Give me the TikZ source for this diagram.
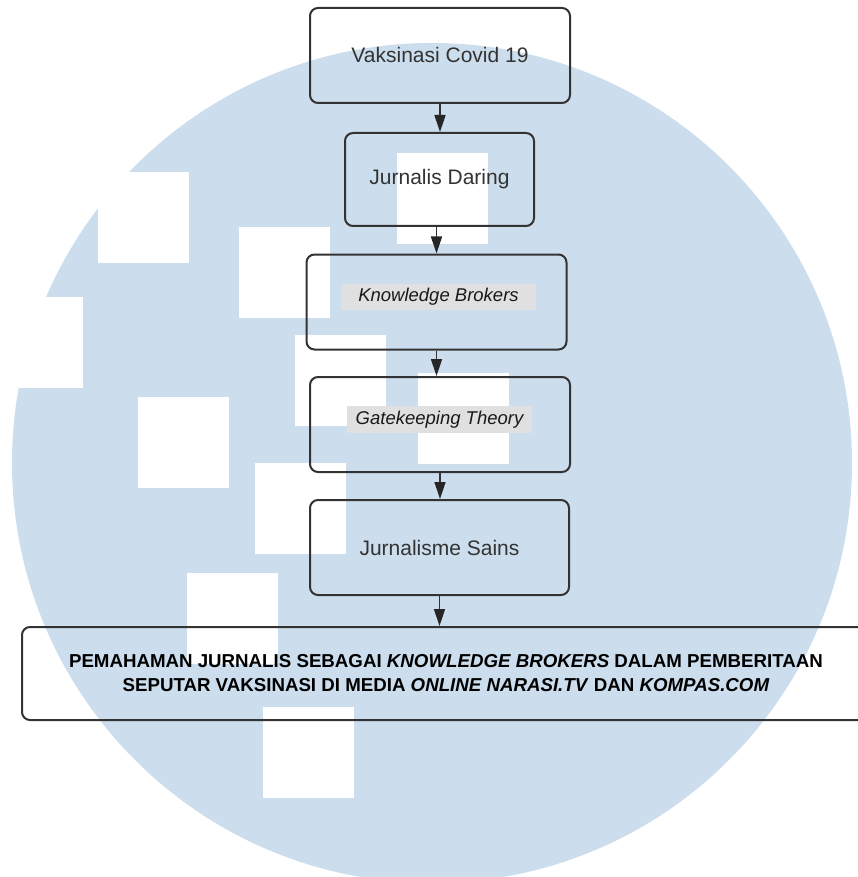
\documentclass[tikz,border=0pt]{standalone}
\usepackage{fontspec}
\setmainfont{Liberation Sans}
\usetikzlibrary{arrows.meta}
\definecolor{wm}{RGB}{204,221,237}
\definecolor{ink}{HTML}{333333}
\definecolor{tagbg}{HTML}{E0E0E0}
\begin{document}
\begin{tikzpicture}[x=1pt,y=-1pt,
  stage/.style={draw=ink, line width=2pt, rounded corners=8pt, inner sep=0pt,
    text=ink, font=\fontsize{21}{25}\selectfont},
  tag/.style={fill=tagbg, inner sep=0pt, minimum height=26pt, text=black!90,
    font=\fontsize{18.5}{22}\selectfont\itshape},
  link/.style={draw=ink, line width=1.4pt,
    -{Triangle[length=17pt,width=11pt,color=black!85]}},
  tile/.style={fill=white}]
\useasboundingbox (0,0) rectangle (858,877);
\clip (0,0) rectangle (858,877);

% watermark disc with white tiles
\fill[wm] (432,463) circle[radius=420];
\foreach \x/\y in {98/172, 239/227, -8/297, 295/335, 138/397, 255/463,
                   397/153, 418/373, 187/573, 263/707}
  \fill[tile] (\x,\y) rectangle ++(91,91);

% flow stages
\node[stage, minimum width=260pt, minimum height=95pt] (b1) at (440,55.5) {\raisebox{1.5pt}{Vaksinasi Covid 19}};
\node[stage, minimum width=189pt, minimum height=93pt] (b2) at (439.5,179.5) {Jurnalis Daring};
\node[stage, minimum width=260pt, minimum height=95pt] (b3) at (436.5,302) {};
\node[tag, minimum width=195pt] (b3t) at (438.5,297) {Knowledge Brokers};
\node[stage, minimum width=260pt, minimum height=95pt] (b4) at (440,424.5) {};
\node[tag, minimum width=185pt, minimum height=27pt] (b4t) at (439.5,419.5) {Gatekeeping Theory};
\node[stage, minimum width=259pt, minimum height=95pt] (b5) at (439.5,547.5) {Jurnalisme Sains};
\node[stage, minimum width=848pt, minimum height=93pt, align=center, text=black,
  font=\fontsize{18.7}{24}\selectfont\bfseries] (b6) at (446,673.5)
  {PEMAHAMAN JURNALIS SEBAGAI \textit{KNOWLEDGE BROKERS} DALAM PEMBERITAAN\\
   SEPUTAR VAKSINASI DI MEDIA \textit{ONLINE NARASI.TV} DAN \textit{KOMPAS.COM}};

% connectors
\draw[link] (b1.south) -- (b1.south |- b2.north);
\draw[link] (b3.north |- b2.south) -- (b3.north);
\draw[link] (b3.south) -- (b3.south |- b4.north);
\draw[link] (b4.south) -- (b4.south |- b5.north);
\draw[link] (b5.south) -- (b5.south |- b6.north);
\end{tikzpicture}
\end{document}
